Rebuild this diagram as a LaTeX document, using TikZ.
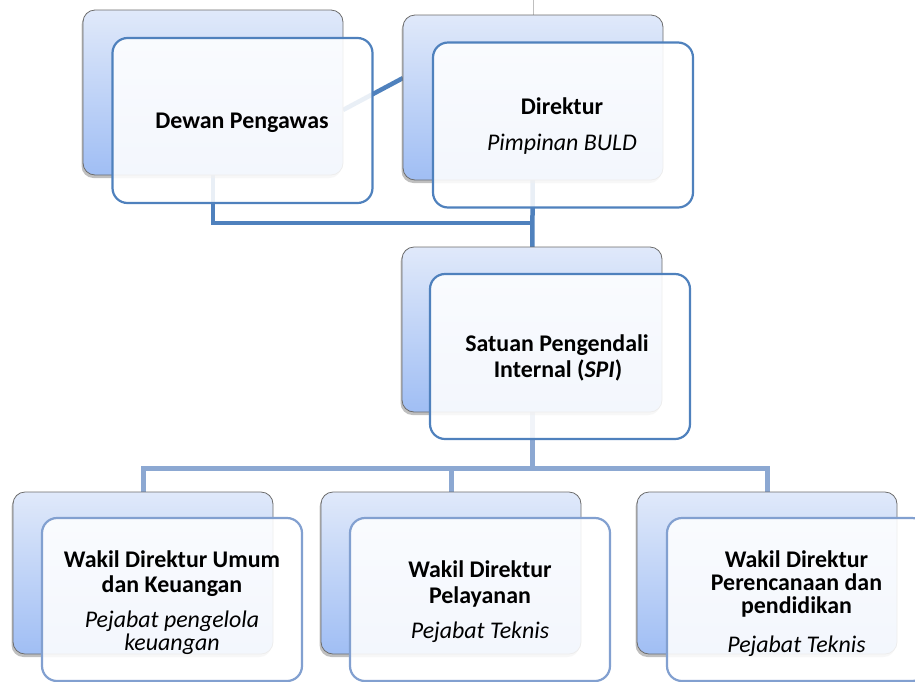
\documentclass[tikz,border=0pt]{standalone}
\usepackage{fontspec}
\setmainfont{Carlito}
\usetikzlibrary{shadows}
\definecolor{bordD}{RGB}{79,129,189}
\definecolor{bordL}{RGB}{130,160,208}
\definecolor{lineD}{RGB}{79,129,189}
\definecolor{lineL}{RGB}{140,168,210}
\definecolor{gtop}{RGB}{224,233,250}
\definecolor{gbot}{RGB}{160,190,244}
\pgfdeclarelayer{bg}
\pgfsetlayers{bg,main}
\begin{document}
\begin{tikzpicture}[x=1pt,y=-1pt,
  backbox/.style={rectangle, draw=gray!85!black, line width=0.8pt, rounded corners=12pt,
    top color=gtop, bottom color=gbot, minimum width=260pt, minimum height=165pt,
    inner sep=0pt, drop shadow={shadow xshift=-1.5pt, shadow yshift=-3pt, opacity=.5}},
  frontbox/.style={rectangle, draw=bordD, line width=2.2pt, rounded corners=15pt,
    fill=white, fill opacity=0.88, minimum width=260pt, minimum height=165pt, inner sep=0pt},
  frontL/.style={frontbox, draw=bordL, minimum height=163pt},
  backL/.style={backbox, minimum height=162pt},
  dconn/.style={draw=lineD, line width=4.5pt},
  lconn/.style={draw=lineL, line width=5pt},
  bt/.style={anchor=base, inner sep=0pt, font=\fontsize{23.9}{28}\selectfont\bfseries, text=black},
  it/.style={anchor=base, inner sep=0pt, font=\fontsize{23.9}{28}\selectfont\itshape, text=black}
]
\useasboundingbox (0,0) rectangle (915,681);
\clip (0,0) rectangle (915,681);

% back boxes
\node[backbox] (dewanB) at (213,92.5) {};
\node[backbox] (direkB) at (533,97.5) {};
\node[backbox] (spiB) at (532,329.5) {};
\node[backL] (leftB) at (143,573) {};
\node[backL] (midB) at (451,573) {};
\node[backL] (rightB) at (767,573) {};

% front boxes
\node[frontbox] (dewan) at (242.5,120.5) {};
\node[frontbox] (direk) at (563,125) {};
\node[frontbox] (spi) at (560,356.5) {};
\node[frontL] (left) at (172,599.5) {};
\node[frontL] (mid) at (480,599.5) {};
\node[frontL] (right) at (797,599.5) {};

% connectors (behind boxes)
\coordinate (j1) at (532,223);
\coordinate (jb) at (532,468);
\coordinate (dd1) at (343,110);
\coordinate (dd2) at (403,78);
\coordinate (topend) at (533,0);
\begin{pgfonlayer}{bg}
  \draw[dconn] (dewanB.center) -- (dewanB.center |- j1) -- (j1);
  \draw[dconn] (direkB.center) -- (spiB.center);
  \draw[dconn] (dd1) -- (dd2);
  \draw[gray!50, line width=0.8pt] (direkB.north) -- (topend);
  \draw[lconn] (spiB.center) -- (jb);
  \draw[lconn] (leftB.center) -- (leftB.center |- jb) -- (rightB.center |- jb) -- (rightB.center);
  \draw[lconn] (midB.center) -- (midB.center |- jb);
\end{pgfonlayer}

% texts
\node[bt] (t1) at (242,128) {Dewan Pengawas};
\node[bt] (t2a) at (562,114) {Direktur};
\node[it] (t2b) at (562,150) {Pimpinan BULD};
\node[bt] (t3a) at (557,351) {Satuan Pengendali};
\node[bt] (t3b) at (558,377) {Internal (\textit{SPI})};
\node[bt] (t4a) at (172,567) {Wakil Direktur Umum};
\node[bt] (t4b) at (172,592) {dan Keuangan};
\node[it] (t4c) at (172,627) {Pejabat pengelola};
\node[it] (t4d) at (172,650) {keuangan};
\node[bt] (t5a) at (480,577) {Wakil Direktur};
\node[bt] (t5b) at (480,603) {Pelayanan};
\node[it] (t5c) at (480,638) {Pejabat Teknis};
\node[bt] (t6a) at (796.5,567) {Wakil Direktur};
\node[bt] (t6b) at (796.5,590) {Perencanaan dan};
\node[bt] (t6c) at (796.5,613) {pendidikan};
\node[it] (t6d) at (796.5,652) {Pejabat Teknis};
\end{tikzpicture}
\end{document}
